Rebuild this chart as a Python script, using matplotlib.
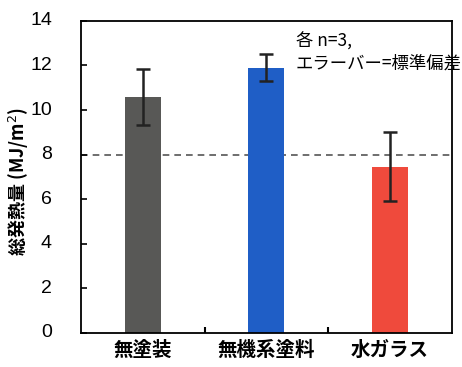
import numpy as np
import matplotlib
matplotlib.use('Agg')
import matplotlib.pyplot as plt

plt.rcParams['font.family'] = ['Noto Sans CJK JP', 'DejaVu Sans']

categories = ['無塗装', '無機系塗料', '水ガラス']
heat_values = [10.6, 11.9, 7.45]
heat_err = [1.25, 0.6, 1.55]
bar_colors = ['#585856', '#1f5ec6', '#ef4a3c']
y_ticks = [0, 2, 4, 6, 8, 10, 12, 14]
threshold = 8

fig = plt.figure(figsize=(4.62, 3.67), dpi=100)
ax = fig.add_axes([0.175, 0.093, 0.803, 0.850])

x = np.arange(len(categories))
ax.bar(x, heat_values, width=0.29, color=bar_colors, zorder=2)
ax.errorbar(x, heat_values, yerr=heat_err, fmt='none', ecolor='#222222',
            elinewidth=1.8, capsize=5, capthick=1.8, zorder=3)
ax.axhline(threshold, color='#555555', linestyle=(0, (4, 3)), linewidth=1.2, zorder=1)

ax.set_xlim(-0.5, 2.5)
ax.set_ylim(0, 14)
ax.set_yticks(y_ticks)
ax.set_xticks(x)
ax.set_xticklabels(categories, fontsize=14, fontweight='semibold')
ax.tick_params(axis='x', length=0, pad=6)
ax.set_xticks([0.5, 1.5], minor=True)
ax.tick_params(axis='x', which='minor', direction='in', length=4, width=1.5)
ax.tick_params(axis='y', direction='in', length=4, width=1.2, labelleft=False)

# y numbers sit well away from the spine in the original, so place them by hand
ytrans = ax.get_yaxis_transform()
for v in y_ticks:
    ax.text(-0.078, v, str(v), transform=ytrans, ha='right', va='center',
            fontsize=14, family=['Liberation Sans', 'DejaVu Sans'], clip_on=False)

ax.set_ylabel('総発熱量 (MJ/m$^2$)', fontsize=13, fontweight='bold')
ax.yaxis.set_label_coords(-0.135, 0.484)
for s in ax.spines.values():
    s.set_linewidth(1.3)

ax.text(0.58, 0.965, '各 n=3,\nエラーバー=標準偏差', transform=ax.transAxes,
        fontsize=12.5, va='top', ha='left', linespacing=1.3, clip_on=False)

fig.savefig('out.png', dpi=100)
